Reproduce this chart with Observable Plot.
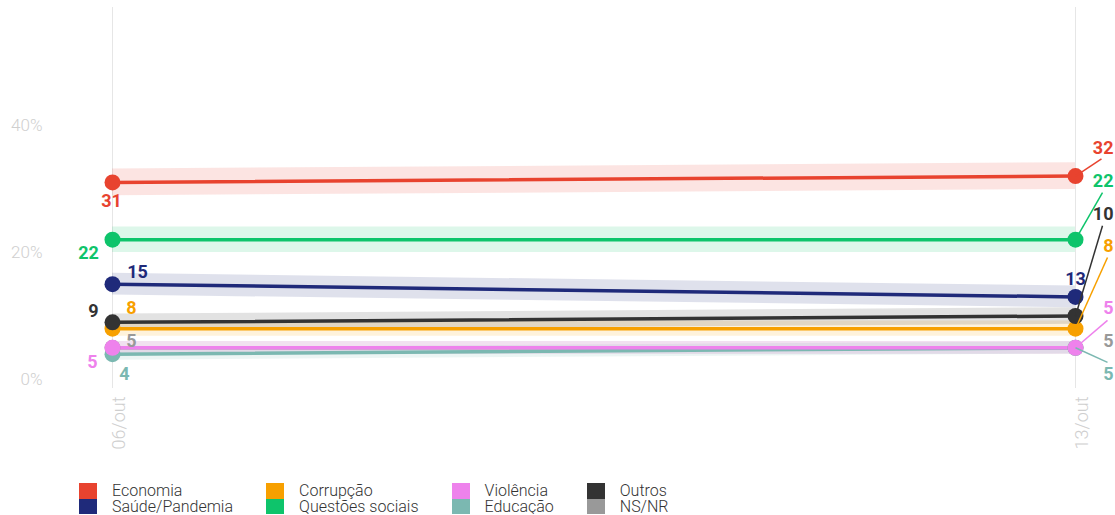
<!DOCTYPE html>
<html><head><meta charset="utf-8">
<script src="https://cdn.jsdelivr.net/npm/d3@7"></script>
<script src="https://cdn.jsdelivr.net/npm/@observablehq/plot@0.6"></script>
<style>
html,body{margin:0;padding:0;background:#fff;font-family:Roboto,"Open Sans",sans-serif;}
#chart svg{display:block;overflow:visible;}
#legend{display:flex;gap:0 33px;margin:13px 0 0 79px;}
.col{display:flex;flex-direction:column;}
.item{display:flex;align-items:center;height:15.5px;}
.sw{width:18px;height:15.5px;flex:none;}
.lab{margin-left:15px;font-size:16px;font-weight:300;color:#333;line-height:15.5px;white-space:nowrap;}
</style></head>
<body><div id="chart"></div><div id="legend"></div>
<script>
// ---- data ----
const dates = ["06/out", "13/out"];
const series = ["Economia", "Saúde/Pandemia", "Corrupção", "Questões sociais", "Violência", "Educação", "Outros", "NS/NR"];
const colors = ["#e8432f", "#1f2a7a", "#f7a000", "#0ec46b", "#ee82ec", "#7bb8b1", "#333333", "#999999"];
const values06 = [31, 15, 8, 22, 5, 4, 9, 5];
const values13 = [32, 13, 8, 22, 5, 5, 10, 5];
const errorMargin = [2.1, 1.7, 1.2, 2.0, 1.0, 0.95, 1.3, 1.0]; // shaded band half-width, p.p.
const yTicks = [0, 20, 40];

// ---- label layout (pixels / label anchors) ----
const leftDx = [-1, 25, 19, -24, -20, 12, -19, 19];
const leftDy = [19, -12, -20, 14, 14, 20, -11, -7];
const rightLabelY = [36.4, null, 20.9, 31.2, 11.2, 0.8, 26, 6];
const rightLinkEndY = [34.7, null, 19.2, 29.4, 9.3, 2.7, 24.2, null];
const rightLinkDx = [26, 0, 32, 27, 32, 32, 27, 0];
const drawOrder = [0, 3, 1, 2, 6, 7, 5, 4];

const W = 1115, H = 470, mL = 112, mR = 40, mT = 7, mB = 82;
const pxPerX = W - mL - mR;

const rows = [];
drawOrder.forEach(i => {
  rows.push({s: series[i], x: 0, v: values06[i], m: errorMargin[i]});
  rows.push({s: series[i], x: 1, v: values13[i], m: errorMargin[i]});
});

const marks = [
  Plot.ruleX([0, 1], {x: d => d, stroke: "#e6e6e6", strokeWidth: 1}),
  Plot.axisY({ticks: yTicks, tickSize: 0, tickPadding: 70, tickFormat: d => d + "%", label: null,
    fontSize: 17, fontWeight: 300, color: "#cfcfcf", fill: "#cfcfcf"}),
  Plot.text([0, 1], {x: d => d, frameAnchor: "bottom", text: i => dates[i], rotate: -90,
    textAnchor: "end", lineAnchor: "middle", dx: 7, dy: 8, fontSize: 18, fontWeight: 300, fill: "#cfcfcf"}),
  Plot.areaY(rows, {x: "x", y1: d => d.v - d.m, y2: d => d.v + d.m, z: "s", fill: "s", fillOpacity: 0.14}),
  Plot.line(rows, {x: "x", y: "v", z: "s", stroke: "s", strokeWidth: 3.5}),
  Plot.dot(rows, {x: "x", y: "v", fill: "s", r: 8})
];

// leader lines on the right
series.forEach((s, i) => {
  if (rightLinkEndY[i] == null) return;
  marks.push(Plot.link([i], {x1: 1, y1: values13[i], x2: 1 + rightLinkDx[i] / pxPerX, y2: rightLinkEndY[i],
    stroke: colors[i], strokeWidth: 1.5}));
});

// left labels
series.forEach((s, i) => {
  marks.push(Plot.text([String(values06[i])], {x: 0, y: values06[i], text: d => d, dx: leftDx[i], dy: leftDy[i],
    fill: colors[i], fontSize: 18, fontWeight: 700, textAnchor: "middle"}));
});
// right labels
series.forEach((s, i) => {
  if (rightLabelY[i] == null) {
    marks.push(Plot.text([String(values13[i])], {x: 1, y: values13[i], text: d => d, dy: -18,
      fill: colors[i], fontSize: 18, fontWeight: 700, textAnchor: "middle"}));
  } else {
    marks.push(Plot.text([String(values13[i])], {x: 1, y: rightLabelY[i], text: d => d, dx: 38,
      fill: colors[i], fontSize: 18, fontWeight: 700, textAnchor: "end"}));
  }
});

const chart = Plot.plot({
  width: W, height: H, marginLeft: mL, marginRight: mR, marginTop: mT, marginBottom: mB,
  style: {fontFamily: "Roboto, sans-serif", background: "#fff"},
  x: {domain: [0, 1], axis: null},
  y: {domain: [-1.4, 58.5], axis: null},
  color: {domain: series, range: colors},
  marks
});
document.getElementById("chart").appendChild(chart);

// legend
const legend = document.getElementById("legend");
for (let c = 0; c < series.length / 2; c++) {
  const col = document.createElement("div");
  col.className = "col";
  [2 * c, 2 * c + 1].forEach(i => {
    const it = document.createElement("div");
    it.className = "item";
    it.innerHTML = `<span class="sw" style="background:${colors[i]}"></span><span class="lab">${series[i]}</span>`;
    col.appendChild(it);
  });
  legend.appendChild(col);
}
</script>
</body></html>
